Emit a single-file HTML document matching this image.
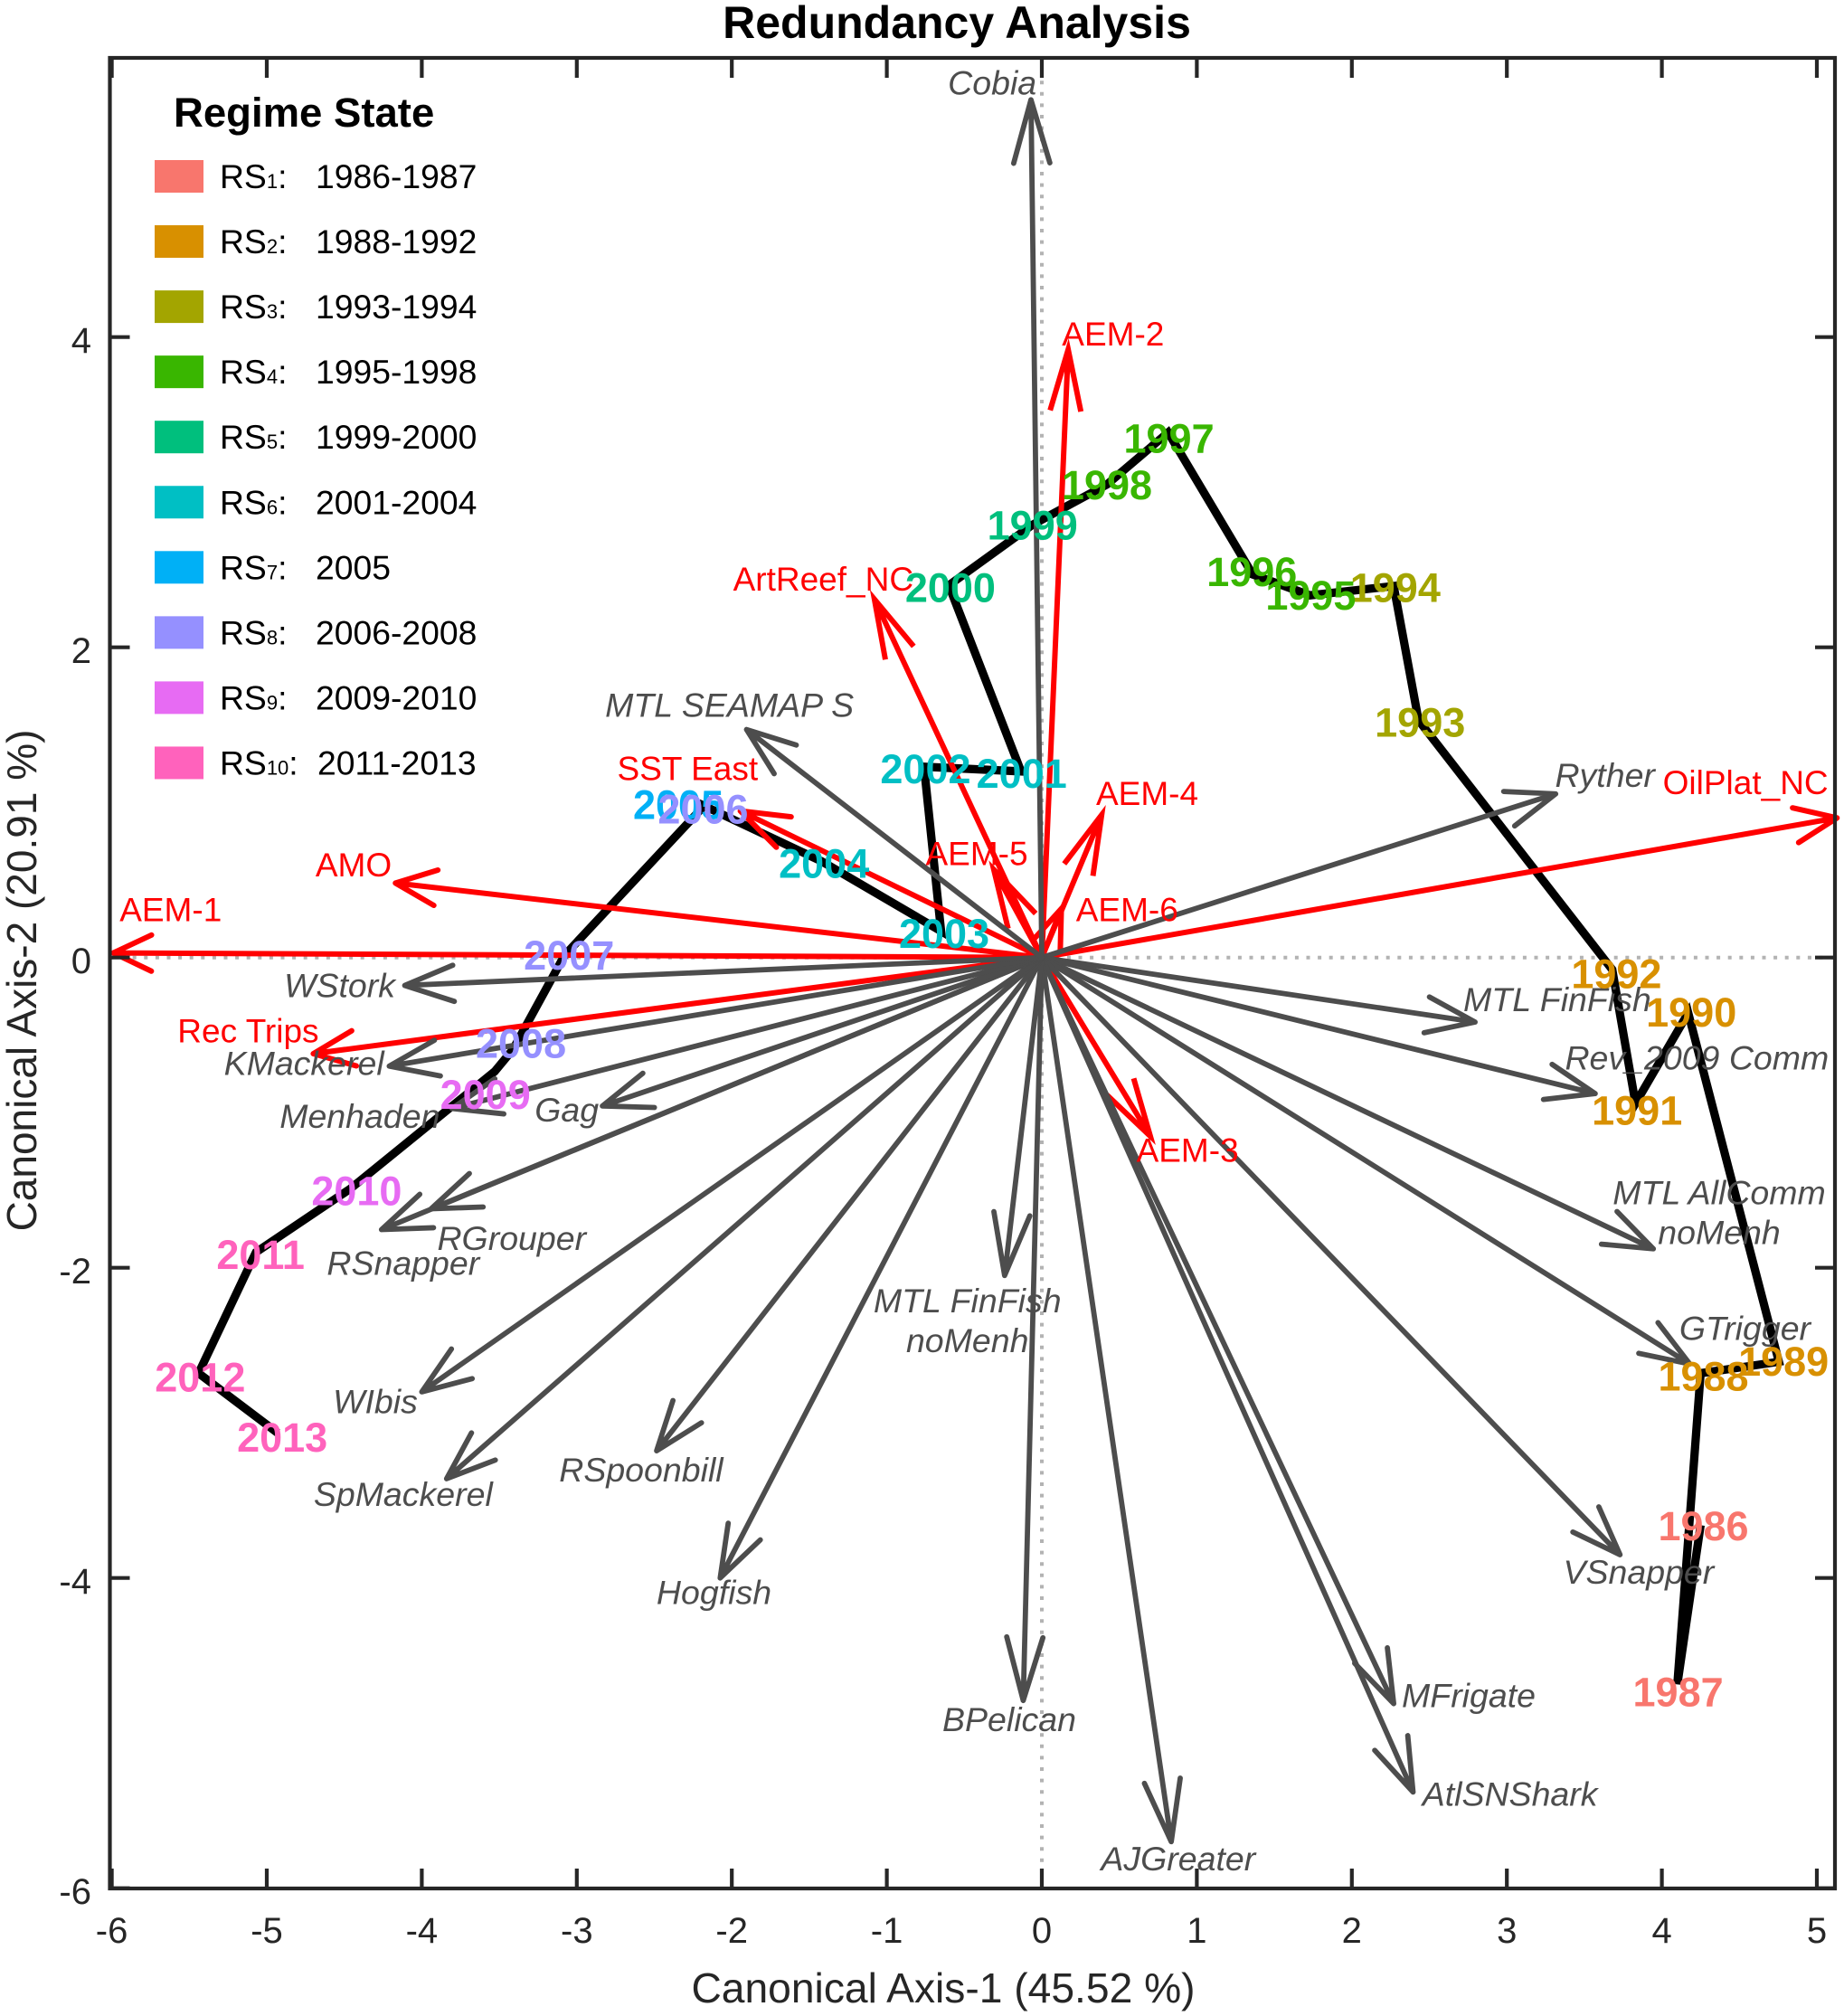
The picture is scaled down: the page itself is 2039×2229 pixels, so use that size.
<!DOCTYPE html>
<html>
<head>
<meta charset="utf-8">
<title>Redundancy Analysis</title>
<style>
html,body{margin:0;padding:0;background:#fff;}
svg{display:block;font-family:"Liberation Sans",Arial,sans-serif;}
</style>
</head>
<body>
<svg id="chart" xmlns="http://www.w3.org/2000/svg" width="2039" height="2229" viewBox="0 0 2039 2229">
  <rect x="0" y="0" width="2039" height="2229" fill="#ffffff"/>
  <text x="1058" y="42" font-size="50" font-weight="bold" text-anchor="middle" fill="#000">Redundancy Analysis</text>
  <text x="1043" y="2214" font-size="46.2" text-anchor="middle" fill="#262626">Canonical Axis-1 (45.52 %)</text>
  <text transform="translate(40,1084) rotate(-90)" font-size="46" text-anchor="middle" fill="#262626">Canonical Axis-2 (20.91 %)</text>
</svg>
<script>
// Axis ticks
const xTicks = [-6,-5,-4,-3,-2,-1,0,1,2,3,4,5];
const yTicks = [-6,-4,-2,0,2,4];

// Site scores (trajectory)
const years = [1986,1987,1988,1989,1990,1991,1992,1993,1994,1995,1996,1997,1998,1999,2000,2001,2002,2003,2004,2005,2006,2007,2008,2009,2010,2011,2012,2013];
const siteX = [4.25,4.10,4.25,4.755,4.17,3.83,3.68,2.43,2.27,1.73,1.36,0.815,0.42,-0.06,-0.60,-0.134,-0.76,-0.65,-1.42,-2.215,-2.19,-3.08,-3.41,-3.53,-4.46,-5.07,-5.44,-4.93];
const siteY = [-3.66,-4.685,-2.68,-2.606,-0.357,-0.94,-0.078,1.53,2.395,2.335,2.47,3.385,3.05,2.79,2.40,1.20,1.23,0.17,0.62,0.995,0.966,0.013,-0.59,-0.735,-1.49,-1.90,-2.68,-3.065];
const yearLabelX = [4.268,4.105,4.268,4.785,4.19,3.84,3.707,2.44,2.28,1.735,1.355,0.82,0.42,-0.06,-0.59,-0.13,-0.75,-0.63,-1.405,-2.345,-2.185,-3.05,-3.36,-3.59,-4.42,-5.04,-5.43,-4.90];
const yearLabelY = [-3.66,-4.73,-2.695,-2.598,-0.349,-0.98,-0.102,1.52,2.39,2.34,2.49,3.35,3.05,2.79,2.39,1.19,1.22,0.16,0.61,0.99,0.96,0.02,-0.55,-0.88,-1.50,-1.91,-2.70,-3.09];
const yearState = [0,0,1,1,1,1,1,2,2,3,3,3,3,4,4,5,5,5,5,6,7,7,7,8,8,9,9,9];

// Regime states
const stateColors = ["#F8766D","#D89000","#A3A500","#39B600","#00BF7D","#00BFC4","#00B0F6","#9590FF","#E76BF3","#FF62BC"];
const stateNums = ["1","2","3","4","5","6","7","8","9","10"];
const stateRanges = ["1986-1987","1988-1992","1993-1994","1995-1998","1999-2000","2001-2004","2005","2006-2008","2009-2010","2011-2013"];

// Response variables (gray arrows)
const respNames = ["Cobia","Ryther","MTL FinFish","Rev_2009 Comm","MTL AllComm|noMenh","GTrigger","VSnapper","MFrigate","AtlSNShark","AJGreater","BPelican","MTL FinFish|noMenh","Hogfish","RSpoonbill","SpMackerel","WIbis","RSnapper","RGrouper","Gag","Menhaden","KMackerel","WStork","MTL SEAMAP S"];
const respX = [-0.07,3.315,2.795,3.57,3.945,4.18,3.73,2.27,2.395,0.835,-0.12,-0.24,-2.075,-2.485,-3.84,-4.00,-4.26,-3.94,-2.835,-3.805,-4.21,-4.11,-1.905];
const respY = [5.53,1.055,-0.416,-0.877,-1.878,-2.62,-3.85,-4.81,-5.38,-5.70,-4.79,-2.05,-4.00,-3.18,-3.36,-2.80,-1.754,-1.62,-0.957,-0.973,-0.70,-0.18,1.47];
const respLabelX = [-0.32,3.633,3.325,4.226,4.37,4.536,3.85,2.754,3.02,0.88,-0.21,-0.48,-2.115,-2.585,-4.12,-4.30,-4.12,-3.42,-3.065,-4.40,-4.76,-4.53,-2.015];
const respLabelY = [5.64,1.176,-0.268,-0.646,-1.515,-2.39,-3.96,-4.757,-5.393,-5.81,-4.91,-2.21,-4.09,-3.30,-3.46,-2.86,-1.97,-1.81,-0.98,-1.02,-0.68,-0.18,1.63];

// Explanatory variables (red arrows)
const explNames = ["OilPlat_NC","AEM-1","AMO","Rec Trips","SST East","ArtReef_NC","AEM-2","AEM-4","AEM-5","AEM-6","AEM-3"];
const explX = [5.13,-5.99,-4.17,-4.70,-1.945,-1.08,0.17,0.386,-0.31,0.126,0.70];
const explY = [0.90,0.03,0.48,-0.62,0.945,2.31,3.92,0.92,0.567,0.315,-1.152];
const explLabelX = [4.54,-5.62,-4.44,-5.12,-2.285,-1.41,0.46,0.68,-0.42,0.55,0.94];
const explLabelY = [1.13,0.31,0.60,-0.47,1.22,2.44,4.02,1.06,0.67,0.31,-1.24];

const NS = "http://www.w3.org/2000/svg";
const svg = document.getElementById("chart");
const sx = v => 1152 + 171.4 * v;
const sy = v => 1058.7 - 171.5 * v;
const LEFT = 121.5, RIGHT = 2029, TOP = 64, BOTTOM = 2088;
const slug = s => s.replace(/[^A-Za-z0-9]+/g, "-").toLowerCase();

function make(tag, attrs, parent, txt) {
  const el = document.createElementNS(NS, tag);
  for (const k in attrs) el.setAttribute(k, attrs[k]);
  if (txt !== undefined) el.textContent = txt;
  (parent || svg).appendChild(el);
  return el;
}

// zero reference lines
const zeroH = make("line", {x1: LEFT, x2: RIGHT, y1: sy(0), y2: sy(0), stroke: "#b3b3b3", "stroke-width": 4, "stroke-dasharray": "4 8.6"});


const zeroV = make("line", {x1: sx(0), x2: sx(0), y1: TOP, y2: BOTTOM, stroke: "#b3b3b3", "stroke-width": 4, "stroke-dasharray": "4 8.6"});



// trajectory
const trajectory = make("polyline", {
  points: siteX.map((x, i) => sx(x) + "," + sy(siteY[i])).join(" "),
  fill: "none", stroke: "#000", "stroke-width": 9.2, "stroke-linejoin": "miter"
});



function steep(x, y) {
  const dx = sx(x) - sx(0), dy = sy(y) - sy(0);
  return Math.abs(dy) / Math.hypot(dx, dy);
}
function arrowPath(x, y, along, perp) {
  const tx = sx(x), ty = sy(y), ox = sx(0), oy = sy(0);
  const dx = ox - tx, dy = oy - ty, len = Math.hypot(dx, dy);
  const ux = dx / len, uy = dy / len;
  const a = Math.min(along, len * 0.8);
  const b1x = tx + ux * a - uy * perp, b1y = ty + uy * a + ux * perp;
  const b2x = tx + ux * a + uy * perp, b2y = ty + uy * a - ux * perp;
  return `M${ox} ${oy}L${tx} ${ty}M${b1x} ${b1y}L${tx} ${ty}L${b2x} ${b2y}`;
}

// red arrows
explNames.forEach((n, i) => {
  const s = steep(explX[i], explY[i]);
  const p = make("path", {
    d: arrowPath(explX[i], explY[i], 42 + 26 * s, 20 - 3 * s),
    fill: "none", stroke: "#ff0000", "stroke-width": 6,
    "stroke-linecap": s < 0.6 ? "round" : "butt",
    "stroke-linejoin": s < 0.6 ? "round" : "miter", "stroke-miterlimit": 12
  });
  
  
});

// gray arrows
respNames.forEach((n, i) => {
  const s = steep(respX[i], respY[i]);
  const p = make("path", {
    d: arrowPath(respX[i], respY[i], 54 + 16 * Math.pow(s, 12), 20),
    fill: "none", stroke: "#4d4d4d", "stroke-width": 5.8, "stroke-linecap": "round", "stroke-linejoin": "round"
  });
  
  
});

// labels for arrows
function multiLabel(name, x, y, size, color, italic) {
  const t = make("text", {x: sx(x), y: sy(y) + size * 0.35, "font-size": size, "text-anchor": "middle", fill: color, "font-style": italic ? "italic" : "normal"});
  name.split("|").forEach((line, k) => {
    make("tspan", {x: sx(x), dy: k ? 44 : 0}, t, line);
  });
  return t;
}
respNames.forEach((n, i) => {
  const t = multiLabel(n, respLabelX[i], respLabelY[i], 37.5, "#4d4d4d", true);
  
  
});
explNames.forEach((n, i) => {
  const t = multiLabel(n, explLabelX[i], explLabelY[i], 37, "#ff0000", false);
  
  
});

// year labels
years.forEach((yr, i) => {
  const t = make("text", {
    x: sx(yearLabelX[i]), y: sy(yearLabelY[i]) + 16.5, "font-size": 45, "font-weight": "bold",
    "text-anchor": "middle", fill: stateColors[yearState[i]]
  }, svg, String(yr));
  
  
});

// frame
const frame = make("rect", {x: LEFT, y: TOP, width: RIGHT - LEFT, height: BOTTOM - TOP, fill: "none", stroke: "#262626", "stroke-width": 4.2});



// ticks
xTicks.forEach(v => {
  const d = `M${sx(v)} ${BOTTOM}V${BOTTOM - 22}M${sx(v)} ${TOP}V${TOP + 22}`;
  const tick = make("path", {d: d, stroke: "#262626", "stroke-width": 4.2, fill: "none"});
  
  
  const lab = make("text", {x: sx(v), y: 2148, "font-size": 40, "text-anchor": "middle", fill: "#262626"}, svg, String(v));
  
  
});
yTicks.forEach(v => {
  const d = `M${LEFT} ${sy(v)}H${LEFT + 22}M${RIGHT} ${sy(v)}H${RIGHT - 22}`;
  const tick = make("path", {d: d, stroke: "#262626", "stroke-width": 4.2, fill: "none"});
  
  
  const lab = make("text", {x: 101, y: sy(v) + 17.5, "font-size": 40, "text-anchor": "end", fill: "#262626"}, svg, String(v));
  
  
});

// legend
const legendTitle = make("text", {x: 192, y: 140, "font-size": 45.5, "font-weight": "bold", fill: "#000"}, svg, "Regime State");


stateNums.forEach((n, i) => {
  const cy = 195 + i * 72.05;
  const sw = make("rect", {x: 171, y: cy - 18, width: 54, height: 36, fill: stateColors[i]});
  
  
  const t = make("text", {x: 243, y: cy + 13, "font-size": 37.3, fill: "#000"});
  
  
  make("tspan", {}, t, "RS");
  make("tspan", {"font-size": 22}, t, n);
  make("tspan", {}, t, ":");
  const r = make("text", {x: i === 9 ? 351 : 349, y: cy + 13, "font-size": 37.3, fill: "#000"}, svg, stateRanges[i]);
  
  
});
</script>
</body>
</html>
